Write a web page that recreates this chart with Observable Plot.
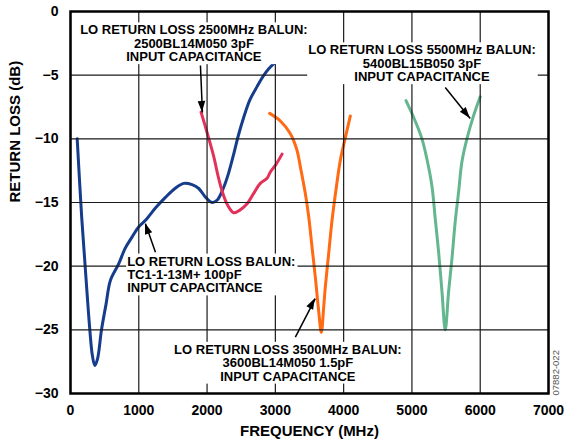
<!DOCTYPE html>
<html><head><meta charset="utf-8">
<script src="https://cdn.jsdelivr.net/npm/d3@7"></script>
<script src="https://cdn.jsdelivr.net/npm/@observablehq/plot@0.6"></script>
<style>
html,body{margin:0;padding:0;background:#fff;}
#chart{width:566px;height:445px;}
</style></head><body><div id="chart"></div>
<script>
// ---- axis ticks ----
const xTicks = [0, 1000, 2000, 3000, 4000, 5000, 6000, 7000];
const yTicks = [0, -5, -10, -15, -20, -25, -30];

// ---- LO return loss, TC1-1-13M+ balun ----
const tc1Freq = [98, 161, 229, 283, 320, 356, 395, 454, 520, 585, 707, 800, 903, 1000, 1098, 1250, 1390, 1530, 1659, 1780, 1878, 1980, 2073, 2150, 2244, 2320, 2390, 2460, 2537, 2630, 2732, 2820, 2903, 3000, 3098];
const tc1Db   = [-10.0, -15.9, -21.1, -25.0, -27.0, -27.8, -27.3, -25.0, -23.0, -21.1, -19.8, -18.6, -17.7, -16.9, -16.4, -15.4, -14.6, -13.9, -13.5, -13.6, -13.9, -14.6, -15.0, -14.8, -13.8, -12.6, -11.2, -9.7, -8.3, -6.9, -5.9, -5.1, -4.5, -4.0, -3.6];
// ---- 2500MHz balun ----
const b2500Freq = [1912, 2000, 2098, 2160, 2220, 2300, 2390, 2480, 2586, 2680, 2780, 2878, 2927, 3010, 3098];
const b2500Db   = [-7.9, -9.5, -11.4, -12.9, -14.1, -15.2, -15.8, -15.6, -15.1, -14.3, -13.5, -13.1, -12.6, -12.0, -11.2];
// ---- 3500MHz balun ----
const b3500Freq = [2917, 3073, 3220, 3317, 3366, 3439, 3488, 3537, 3586, 3634, 3673, 3708, 3732, 3781, 3830, 3893, 3951, 4025, 4098];
const b3500Db   = [-8.0, -8.6, -9.6, -10.9, -12.2, -14.3, -16.1, -18.5, -20.9, -23.5, -25.2, -23.2, -21.6, -19.0, -16.4, -13.8, -11.7, -9.9, -8.2];
// ---- 5500MHz balun ----
const b5500Freq = [4913, 5024, 5147, 5220, 5293, 5342, 5391, 5440, 5488, 5537, 5586, 5634, 5683, 5732, 5805, 5902, 6000];
const b5500Db   = [-7.0, -8.3, -10.0, -11.6, -13.7, -16.3, -18.9, -22.0, -25.0, -22.0, -19.4, -16.5, -14.2, -11.8, -10.0, -8.2, -6.7];

// ---- annotations ----
const annoText = [
  "LO RETURN LOSS 2500MHz BALUN:\n2500BL14M050 3pF\nINPUT CAPACITANCE",
  "LO RETURN LOSS 5500MHz BALUN:\n5400BL15B050 3pF\nINPUT CAPACITANCE",
  "LO RETURN LOSS 3500MHz BALUN:\n3600BL14M050 1.5pF\nINPUT CAPACITANCE",
  "LO RETURN LOSS BALUN:\nTC1-1-13M+ 100pF\nINPUT CAPACITANCE"
];
const annoFreq = [1807, 5147, 3183, 830];
const annoDb   = [-2.51, -4.08, -27.6, -20.67];
const arrowFromFreq = [1903, 5488, 3293, 1244];
const arrowFromDb   = [-4.24, -5.97, -25.57, -18.9];
const arrowToFreq   = [1932, 5854, 3585, 1098];
const arrowToDb     = [-7.93, -8.40, -22.55, -16.66];

const FONT = "'Liberation Sans', Arial, Helvetica, sans-serif";
const pts = (f, d) => f.map((v, i) => ({f: v, db: d[i]}));
const idx = n => d3.range(n);
const lineOpts = (color) => ({x: "f", y: "db", stroke: color, strokeWidth: 3, curve: "catmull-rom"});
const xMin = xTicks[0], xMax = xTicks[xTicks.length - 1];
const yMin = yTicks[yTicks.length - 1], yMax = yTicks[0];

const plot = Plot.plot({
  width: 566, height: 445, marginLeft: 70, marginRight: 18, marginTop: 11, marginBottom: 52,
  style: {fontFamily: FONT, fontSize: "14px", fontWeight: "bold", color: "black", background: "white", overflow: "visible"},
  x: {domain: [xMin, xMax], ticks: xTicks, tickFormat: "d", tickSize: 0, tickPadding: 12, label: null},
  y: {domain: [yMin, yMax], ticks: yTicks, tickFormat: "d", tickSize: 0, tickPadding: 12, label: null},
  marks: [
    Plot.line(pts(tc1Freq, tc1Db), lineOpts("#163c8c")),
    Plot.line(pts(b2500Freq, b2500Db), lineOpts("#e3325a")),
    Plot.line(pts(b3500Freq, b3500Db), lineOpts("#ff6a13")),
    Plot.line(pts(b5500Freq, b5500Db), lineOpts("#64b68f")),
    // grid
    Plot.link(xTicks, {x1: d => d, x2: d => d, y1: () => yMin, y2: () => yMax, stroke: "#1a1a1a", strokeWidth: 1.2}),
    Plot.link(yTicks, {x1: () => xMin, x2: () => xMax, y1: d => d, y2: d => d, stroke: "#1a1a1a", strokeWidth: 1.2}),
    // annotations
    Plot.text([0, 1, 2], {x: i => annoFreq[i], y: i => annoDb[i], text: i => annoText[i], textAnchor: "middle", lineAnchor: "middle", fontSize: 13, fontWeight: "bold", lineHeight: 1.03, fill: "black"}),
    Plot.text([3], {x: i => annoFreq[i], y: i => annoDb[i], text: i => annoText[i], textAnchor: "start", lineAnchor: "middle", fontSize: 13, fontWeight: "bold", lineHeight: 1.03, fill: "black"}),
    Plot.link(idx(4), {x1: i => arrowFromFreq[i], y1: i => arrowFromDb[i], x2: i => arrowToFreq[i], y2: i => arrowToDb[i], stroke: "black", strokeWidth: 1.5}),
    Plot.text(["FREQUENCY (MHz)"], {frameAnchor: "bottom", dy: 42, fontSize: 15, fontWeight: "bold", fill: "black"}),
    Plot.text(["RETURN LOSS (dB)"], {frameAnchor: "left", dx: -55, rotate: -90, fontSize: 15, fontWeight: "bold", fill: "black"}),
    Plot.text(["07882-022"], {frameAnchor: "bottom-right", dx: 10, dy: 2, rotate: -90, textAnchor: "start", fontSize: 9.5, fontWeight: "normal", fill: "#555"}),
    Plot.frame({stroke: "black", strokeWidth: 2.5})
  ]
});
document.getElementById("chart").append(plot);
const svg = plot.tagName.toLowerCase() === "svg" ? plot : plot.querySelector("svg");
const NS = "http://www.w3.org/2000/svg";
const sr = svg.getBoundingClientRect();

// white boxes behind the annotation text (interrupt the grid like the reference)
const annoTexts = [...svg.querySelectorAll('g[aria-label="text"] text')].filter(t => t.textContent.includes("LO RETURN"));
if (annoTexts.length) {
  let anchorG = annoTexts[0];
  while (anchorG.parentNode !== svg) anchorG = anchorG.parentNode;
  annoTexts.forEach(t => {
    const r = t.getBoundingClientRect();
    const rect = document.createElementNS(NS, "rect");
    rect.setAttribute("x", r.left - sr.left - 1);
    rect.setAttribute("y", r.top - sr.top);
    rect.setAttribute("width", r.width + 3);
    rect.setAttribute("height", r.height);
    rect.setAttribute("fill", "white");
    svg.insertBefore(rect, anchorG);
  });
}

// filled arrowheads positioned through the plot's scales
const sx = plot.scale("x"), sy = plot.scale("y");
idx(4).forEach(i => {
  const x1 = sx.apply(arrowFromFreq[i]), y1 = sy.apply(arrowFromDb[i]);
  const x2 = sx.apply(arrowToFreq[i]), y2 = sy.apply(arrowToDb[i]);
  const L = Math.hypot(x2 - x1, y2 - y1), ux = (x2 - x1) / L, uy = (y2 - y1) / L;
  const hl = 11, hw = 3.8;
  const bx = x2 - ux * hl, by = y2 - uy * hl;
  const p = document.createElementNS(NS, "polygon");
  p.setAttribute("points", `${x2},${y2} ${bx - uy * hw},${by + ux * hw} ${bx + uy * hw},${by - ux * hw}`);
  p.setAttribute("fill", "black");
  svg.appendChild(p);
});
</script></body></html>
